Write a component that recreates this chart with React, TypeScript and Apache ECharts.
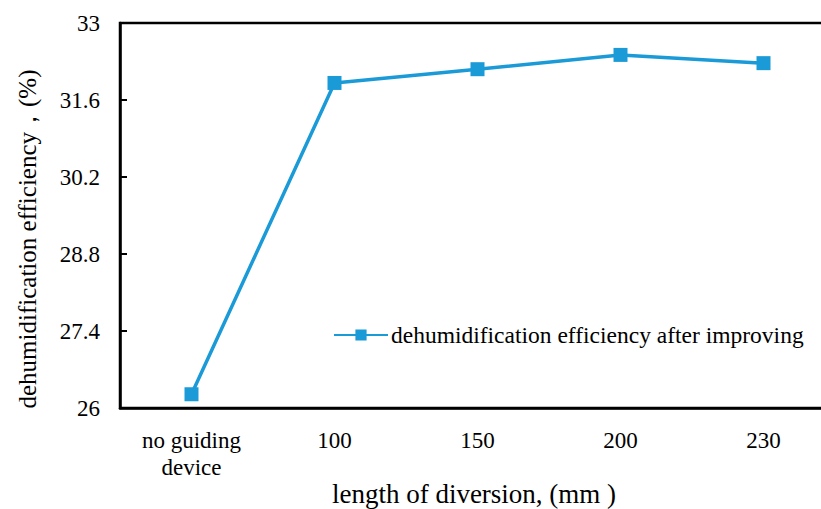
import React, { useEffect, useRef } from "react";
import * as echarts from "echarts";

const categories = ["no guiding\ndevice", "100", "150", "200", "230"];
const efficiency = [26.25, 31.91, 32.16, 32.42, 32.27];
const seriesName = "dehumidification efficiency after improving";
const xTitle = "length of diversion, (mm )";
const yTitle = "dehumidification efficiency，(%)";
const yMin = 26;
const yMax = 33;
const yInterval = 1.4;

const FONT = "Times New Roman, Liberation Serif, DejaVu Serif, serif";
const BLUE = "#1b9ad8";

export default function App() {
  const ref = useRef<HTMLDivElement>(null);
  useEffect(() => {
    if (!ref.current) return;
    const chart = echarts.init(ref.current, undefined, { renderer: "svg" });
    chart.setOption({
      animation: false,
      backgroundColor: "#fff",
      textStyle: { fontFamily: FONT },
      grid: {
        left: 120,
        top: 23,
        width: 715,
        height: 385,
        outerBoundsMode: "none",
        containLabel: false,
        show: true,
        borderColor: "#000",
        borderWidth: 2.5,
      },
      legend: {
        left: 328,
        top: 318,
        itemWidth: 54,
        itemHeight: 14,
        itemGap: 0,
        textStyle: { fontFamily: FONT, fontSize: 23.5, color: "#000", padding: [0, 0, 0, -2] },
        data: [seriesName],
      },
      graphic: [
        {
          type: "text",
          x: 474,
          y: 494,
          style: {
            text: xTitle,
            fontFamily: FONT,
            fontSize: 27,
            fill: "#000",
            align: "center",
            verticalAlign: "middle",
          },
        },
        {
          type: "text",
          x: 27,
          y: 239,
          rotation: Math.PI / 2,
          style: {
            text: yTitle,
            fontFamily: FONT,
            fontSize: 25,
            fill: "#000",
            align: "center",
            verticalAlign: "middle",
          },
        },
      ],
      xAxis: {
        type: "category",
        data: categories,
        boundaryGap: true,
        axisLine: { lineStyle: { color: "#000", width: 2.5 } },
        axisTick: { inside: true, length: 7, lineStyle: { color: "#000", width: 2 } },
        axisLabel: { fontFamily: FONT, fontSize: 23, color: "#000", margin: 19, lineHeight: 27 },
        splitLine: { show: false },
      },
      yAxis: {
        type: "value",
        min: yMin,
        max: yMax,
        interval: yInterval,
        axisLine: { show: true, lineStyle: { color: "#000", width: 2.5 } },
        axisTick: { show: true, inside: true, length: 7, lineStyle: { color: "#000", width: 2 } },
        axisLabel: {
          fontFamily: FONT,
          fontSize: 23,
          color: "#000",
          margin: 20,
          formatter: (v: number) => String(Math.round(v * 10) / 10),
        },
        splitLine: { show: false },
      },
      series: [
        {
          name: seriesName,
          type: "line",
          data: efficiency,
          symbol: "rect",
          symbolSize: 14,
          itemStyle: { color: BLUE },
          lineStyle: { color: BLUE, width: 3.5 },
        },
      ],
    });
    return () => chart.dispose();
  }, []);
  return <div ref={ref} style={{ width: 821, height: 509, position: "absolute", left: 0, top: 0 }} />;
}
